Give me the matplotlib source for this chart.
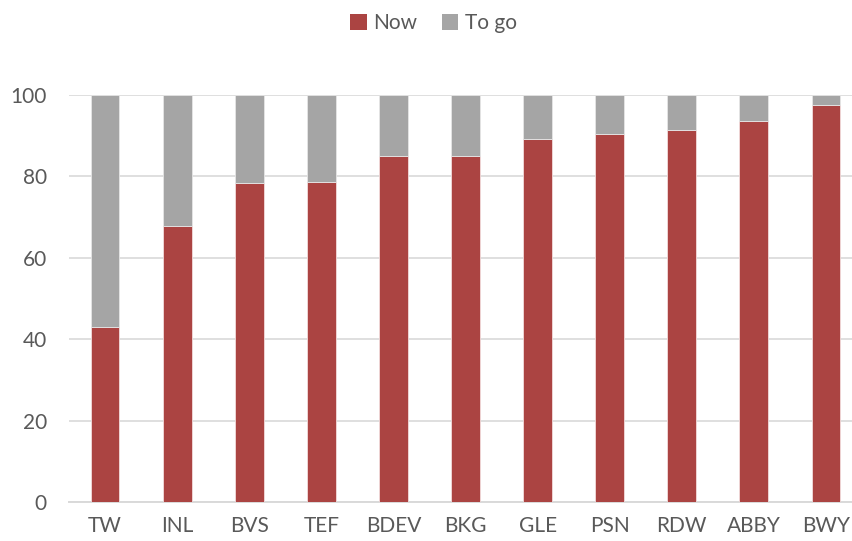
import matplotlib
matplotlib.use("Agg")
import matplotlib.pyplot as plt
from matplotlib.patches import Patch

tickers = ["TW", "INL", "BVS", "TEF", "BDEV", "BKG", "GLE", "PSN", "RDW", "ABBY", "BWY"]
now = [42.9, 67.9, 78.3, 78.7, 85.0, 85.0, 89.2, 90.4, 91.4, 93.6, 97.5]
to_go = [100 - v for v in now]
y_ticks = [0, 20, 40, 60, 80, 100]

RED = "#AB4442"
GREY = "#A5A5A5"
TEXT = "#595959"
GRID = "#D9D9D9"

plt.rcParams["font.family"] = ["Lato", "DejaVu Sans"]

W, H = 853, 541
fig = plt.figure(figsize=(W / 100, H / 100), dpi=100)
left, right, bottom, top = 69, 862, 541 - 502.4, 541 - 94.7
ax = fig.add_axes([left / W, bottom / H, (right - left) / W, (top - bottom) / H])

x = range(len(tickers))
ax.bar(x, now, width=0.4, color=RED, edgecolor="#F2DCDC", linewidth=0.6, zorder=3)
ax.bar(x, to_go, bottom=now, width=0.4, color=GREY, edgecolor="#E6E6E6", linewidth=0.6, zorder=3)

ax.set_xlim(-0.5, len(tickers) - 0.5)
ax.set_ylim(0, 100)
ax.set_yticks(y_ticks)
ax.set_xticks(list(x))
ax.set_xticklabels(tickers)
ax.yaxis.grid(True, color=GRID, linewidth=1.2, zorder=0)
ax.set_axisbelow(True)
for s in ax.spines.values():
    s.set_visible(False)
ax.tick_params(axis="both", length=0, labelsize=15, labelcolor=TEXT)
ax.tick_params(axis="x", pad=10)
ax.tick_params(axis="y", pad=16)
ax.axhline(0, color=GRID, linewidth=1.4, zorder=2, clip_on=False)

handles = [Patch(facecolor=RED, label="Now"), Patch(facecolor=GREY, label="To go")]
fig.legend(handles=handles, loc="center", bbox_to_anchor=(0.508, 1 - 23 / H), ncol=2,
           frameon=False, fontsize=15, labelcolor=TEXT, handlelength=0.8, handleheight=0.8,
           handletextpad=0.3, columnspacing=1.2)

fig.savefig("out.png", dpi=100)
